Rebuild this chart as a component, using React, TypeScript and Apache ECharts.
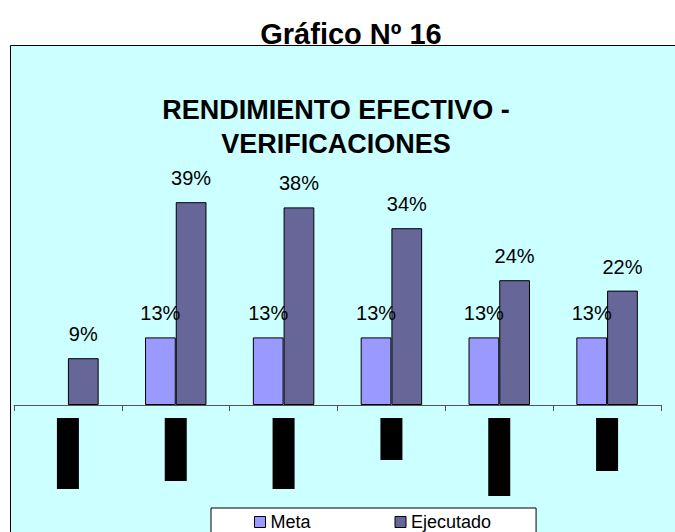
import React, { useEffect, useRef } from "react";
import * as echarts from "echarts";

// ---- data ----
const categories = ["Cat 1", "Cat 2", "Cat 3", "Cat 4", "Cat 5", "Cat 6"];
const metaValues = [null, 13, 13, 13, 13, 13];
const ejecutadoValues = [9, 39, 38, 34, 24, 22];
const seriesNames = ["Meta", "Ejecutado"];
const pageTitle = "Gráfico Nº 16";
const chartTitle = "RENDIMIENTO EFECTIVO -\nVERIFICACIONES";

// ---- styles (redacted category label blocks) ----
const labelBlockHeights = [71, 63, 71, 42, 78, 53];

const FONT = "'Liberation Sans', Arial, sans-serif";

export default function App() {
  const ref = useRef<HTMLDivElement>(null);

  useEffect(() => {
    if (!ref.current) return;
    const chart = echarts.init(ref.current, null, { renderer: "svg" });

    const rich: Record<string, any> = {};
    labelBlockHeights.forEach((h, i) => {
      rich["b" + i] = { width: 22, height: h, backgroundColor: "#000", padding: 0 };
    });

    const labelCfg = {
      show: true,
      position: "top",
      distance: 14,
      color: "#000",
      fontSize: 20,
      fontFamily: FONT,
      formatter: (p: any) => (p.value == null ? "" : p.value + "%"),
    };

    chart.setOption({
      animation: false,
      backgroundColor: "#fff",
      textStyle: { fontFamily: FONT },
      graphic: [
        {
          type: "rect",
          z: -10,
          shape: { x: 10.5, y: 45.5, width: 700, height: 600 },
          style: { fill: "#CCFFFF", stroke: "#000", lineWidth: 1 },
        },
      ],
      title: [
        {
          text: pageTitle,
          left: 346,
          textAlign: "center",
          top: 14,
          textStyle: { fontSize: 29, fontWeight: "bold", color: "#000", fontFamily: FONT },
        },
        {
          text: chartTitle,
          left: 331,
          textAlign: "center",
          top: 88,
          textStyle: {
            fontSize: 27,
            fontWeight: "bold",
            color: "#000",
            lineHeight: 34,
            fontFamily: FONT,
          },
        },
      ],
      legend: {
        data: seriesNames,
        left: 211,
        top: 508,
        padding: [5, 45, 12, 43],
        itemGap: 84,
        itemWidth: 11,
        itemHeight: 11,
        icon: "rect",
        borderColor: "#000",
        borderWidth: 1,
        backgroundColor: "#fff",
        borderRadius: 0,
        itemStyle: { borderColor: "#000", borderWidth: 1 },
        textStyle: { fontSize: 18, color: "#000", fontFamily: FONT },
      },
      grid: { left: 14, right: 14, top: 145, bottom: 127, containLabel: false },
      xAxis: {
        type: "category",
        data: categories,
        axisLine: { show: true, lineStyle: { color: "#555", width: 1 } },
        axisTick: { show: true, length: 6, lineStyle: { color: "#555" } },
        axisLabel: {
          show: true,
          interval: 0,
          margin: 13,
          formatter: (_v: string, i: number) => `{b${i}| }`,
          rich,
        },
      },
      yAxis: {
        type: "value",
        min: 0,
        max: 50,
        show: false,
        splitLine: { show: false },
      },
      series: [
        {
          name: seriesNames[0],
          type: "bar",
          data: metaValues,
          barGap: "0%",
          barCategoryGap: "43%",
          itemStyle: { color: "#9999FF", borderColor: "#000", borderWidth: 1 },
          label: labelCfg,
        },
        {
          name: seriesNames[1],
          type: "bar",
          data: ejecutadoValues,
          barGap: "0%",
          barCategoryGap: "43%",
          itemStyle: { color: "#666699", borderColor: "#000", borderWidth: 1 },
          label: labelCfg,
        },
      ],
    });

    return () => chart.dispose();
  }, []);

  return (
    <div
      ref={ref}
      style={{ position: "fixed", left: 0, top: 0, width: 675, height: 532 }}
    />
  );
}
